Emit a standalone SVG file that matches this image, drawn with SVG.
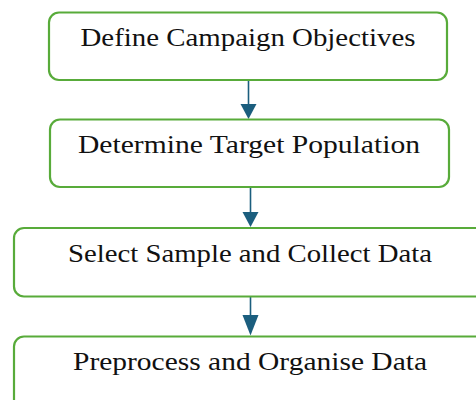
<svg xmlns="http://www.w3.org/2000/svg" width="476" height="400" viewBox="0 0 476 400">
  <style>
    .box { fill: #ffffff; stroke: #58ab3a; stroke-width: 2.2; }
    .label { font-family: "Liberation Serif", "DejaVu Serif", serif; font-size: 26px; fill: #111111; text-anchor: middle; }
    .edge { stroke: #1b5e7e; stroke-width: 1.6; fill: none; }
    .head { fill: #1b5e7e; }
  </style>
  <rect width="476" height="400" fill="#ffffff"/>

  <g id="connectors">
    <line class="edge" x1="248.5" y1="81" x2="248.5" y2="106"/>
    <polygon class="head" points="240.5,104 256.5,104 248.5,119"/>
    <line class="edge" x1="250.5" y1="188" x2="250.5" y2="214"/>
    <polygon class="head" points="242.5,212 258.5,212 250.5,227"/>
    <line class="edge" x1="250.5" y1="297" x2="250.5" y2="317"/>
    <polygon class="head" points="242.5,315 258.5,315 250.5,335.5"/>
  </g>

  <g id="node-objectives">
    <rect class="box" x="49" y="12.5" width="398" height="67.5" rx="10"/>
    <text class="label" x="248" y="45.5" textLength="335" lengthAdjust="spacingAndGlyphs">Define Campaign Objectives</text>
  </g>

  <g id="node-population">
    <rect class="box" x="50" y="119.5" width="399" height="67.5" rx="10"/>
    <text class="label" x="249" y="153" textLength="342" lengthAdjust="spacingAndGlyphs">Determine Target Population</text>
  </g>

  <g id="node-sample">
    <rect class="box" x="14" y="228" width="480" height="68.5" rx="10"/>
    <text class="label" x="250" y="261.5" textLength="364" lengthAdjust="spacingAndGlyphs">Select Sample and Collect Data</text>
  </g>

  <g id="node-preprocess">
    <rect class="box" x="14" y="336.5" width="480" height="80" rx="10"/>
    <text class="label" x="250" y="370" textLength="354" lengthAdjust="spacingAndGlyphs">Preprocess and Organise Data</text>
  </g>
</svg>
